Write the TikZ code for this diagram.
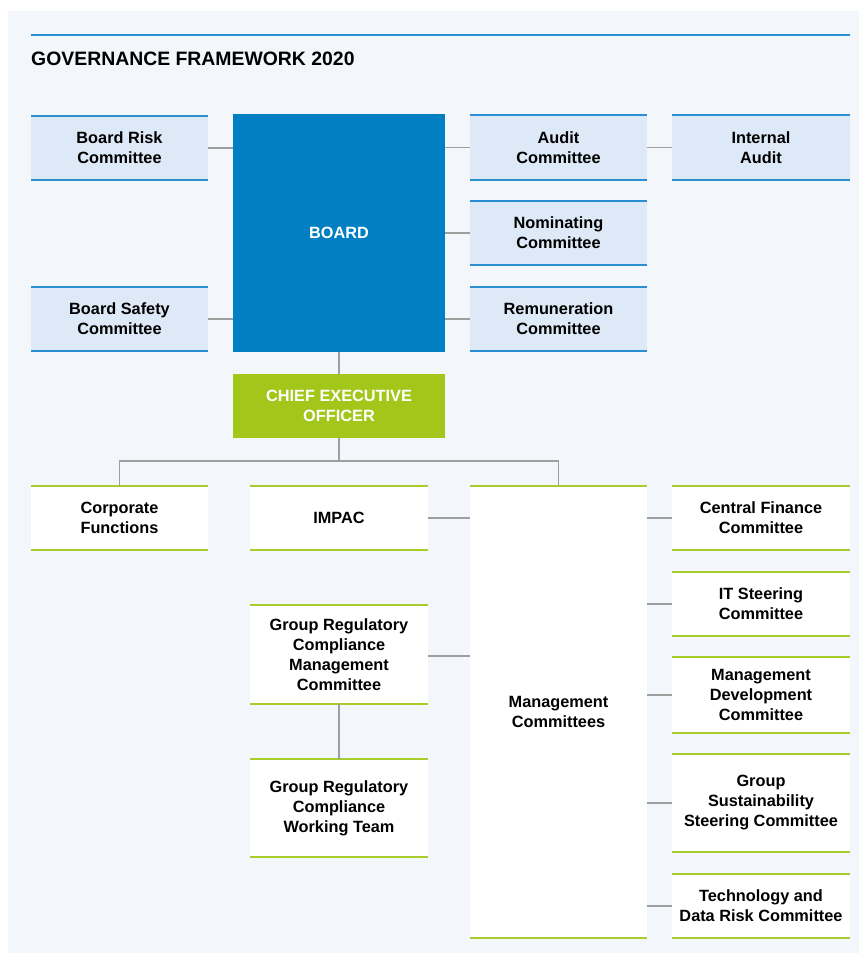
\documentclass[tikz,border=0pt]{standalone}
\usepackage{fontspec}
\setmainfont{Liberation Sans}
\definecolor{panel}{HTML}{F3F6FB}
\definecolor{paleblue}{HTML}{DDE9F6}
\definecolor{rule}{HTML}{2A8FD0}
\definecolor{boardblue}{HTML}{0080C2}
\definecolor{lime}{HTML}{A3C61A}
\definecolor{limerule}{HTML}{A8CC2C}
\definecolor{link}{HTML}{9E9E9E}
\begin{document}
\begin{tikzpicture}[x=1pt,y=-1pt,
  box/.style={inner sep=0pt, outer sep=0pt, align=center,
    font=\fontsize{16.3}{20}\selectfont\bfseries, text=black},
  bluebox/.style={box, fill=paleblue, minimum width=177pt},
  whitebox/.style={box, fill=white, minimum width=178pt},
  bigbox/.style={box, minimum width=212pt, text=white},
  link/.style={draw=link, line width=1.5pt}]

% page and panel
\useasboundingbox (0,0) rectangle (859,954);
\fill[white] (0,0) rectangle (859,954);
\fill[panel] (8,11) rectangle (859,953);

% heading
\draw[rule, line width=2pt] (31,35) -- (850,35);
\node[anchor=base west, inner sep=0pt, font=\fontsize{19.4}{23}\selectfont\bfseries]
  (title) at (31,65) {GOVERNANCE FRAMEWORK 2020};

% board level
\node[bigbox, fill=boardblue, minimum height=238pt] (board) at (339,233) {BOARD};
\node[bluebox, minimum height=64pt] (brc) at (119.5,148) {Board Risk\\Committee};
\node[bluebox, minimum height=64pt] (bsc) at (119.5,319) {Board Safety\\Committee};
\node[bluebox, minimum height=65pt] (audit) at (558.5,147.5) {Audit\\Committee};
\node[bluebox, minimum height=65pt, minimum width=178pt] (ia) at (761,147.5) {Internal\\Audit};
\node[bluebox, minimum height=64pt] (nom) at (558.5,233) {Nominating\\Committee};
\node[bluebox, minimum height=64pt] (rem) at (558.5,319) {Remuneration\\Committee};

% executive level
\node[bigbox, fill=lime, minimum height=64pt] (ceo) at (339,406) {CHIEF EXECUTIVE\\OFFICER};
\coordinate (bus) at (339,461);

\node[whitebox, minimum width=177pt, minimum height=64pt] (corp) at (119.5,518) {Corporate\\Functions};
\node[whitebox, minimum height=64pt] (impac) at (339,518) {IMPAC};
\node[whitebox, minimum width=177pt, minimum height=452pt] (mc) at (558.5,712) {Management\\Committees};
\node[whitebox, minimum height=99pt] (grcmc) at (339,654.5) {Group Regulatory\\Compliance\\Management\\Committee};
\node[whitebox, minimum height=98pt] (grcwt) at (339,808) {Group Regulatory\\Compliance\\Working Team};

\node[whitebox, minimum height=64pt] (cfc) at (761,518) {Central Finance\\Committee};
\node[whitebox, minimum height=64pt] (itc) at (761,604) {IT Steering\\Committee};
\node[whitebox, minimum height=76pt] (mdc) at (761,695) {Management\\Development\\Committee};
\node[whitebox, minimum height=98pt] (gsc) at (761,803) {Group\\Sustainability\\Steering Committee};
\node[whitebox, minimum height=64pt] (tdr) at (761,906) {Technology and\\Data Risk Committee};

% top and bottom rules of the boxes
\foreach \n in {brc,bsc,audit,ia,nom,rem}{
  \draw[rule, line width=2pt] (\n.north west) -- (\n.north east);
  \draw[rule, line width=2pt] (\n.south west) -- (\n.south east);
}
\foreach \n in {corp,impac,mc,grcmc,grcwt,cfc,itc,mdc,gsc,tdr}{
  \draw[limerule, line width=2pt] (\n.north west) -- (\n.north east);
  \draw[limerule, line width=2pt] (\n.south west) -- (\n.south east);
}

% connectors
\draw[link] (brc.east) -- (brc.east -| board.west);
\draw[link] (bsc.east) -- (bsc.east -| board.west);
\draw[link] (audit.west -| board.east) -- (audit.west);
\draw[link] (nom.west -| board.east) -- (nom.west);
\draw[link] (rem.west -| board.east) -- (rem.west);
\draw[link] (audit.east) -- (ia.west);
\draw[link] (board.south) -- (ceo.north);
\draw[link] (ceo.south) -- (bus);
\draw[link] (corp.north) |- (bus) -| (mc.north);
\draw[link] (impac.east) -- (impac.east -| mc.west);
\draw[link] ([yshift=-1.5pt]grcmc.east) -- ([yshift=-1.5pt]grcmc.east -| mc.west);
\draw[link] (grcmc.south) -- (grcwt.north);
\foreach \n in {cfc,itc,mdc,gsc,tdr}{
  \draw[link] (\n.west -| mc.east) -- (\n.west);
}
\end{tikzpicture}
\end{document}
